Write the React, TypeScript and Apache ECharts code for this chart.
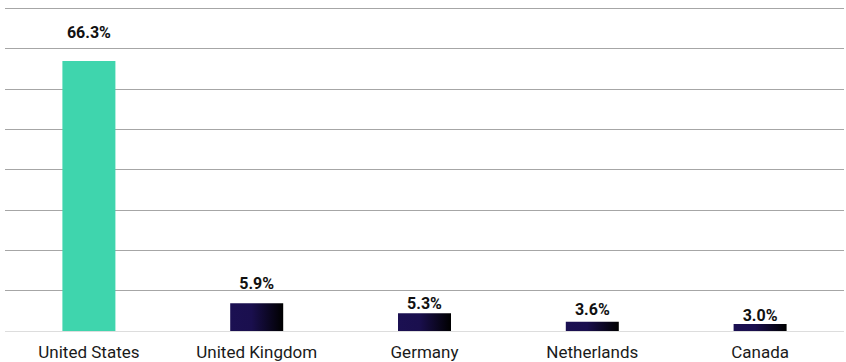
import React, { useEffect, useRef } from "react";
import * as echarts from "echarts";

const categories = ["United States", "United Kingdom", "Germany", "Netherlands", "Canada"];
// bar heights as drawn in the picture (percent)
const barValues = [66.9, 6.86, 4.38, 2.3, 1.73];
// printed labels above the bars
const labelTexts = ["66.3%", "5.9%", "5.3%", "3.6%", "3.0%"];
const labelDistances = [19, 11, 1, 3, 0];
const yMax = 80;
const yInterval = 10;

export default function App() {
  const ref = useRef<HTMLDivElement>(null);
  useEffect(() => {
    if (!ref.current) return;
    const chart = echarts.init(ref.current, undefined, { renderer: "svg" });
    const navy = new echarts.graphic.LinearGradient(0, 0, 1, 0, [
      { offset: 0, color: "#1b1052" },
      { offset: 0.4, color: "#1a0f4e" },
      { offset: 1, color: "#000000" },
    ]);
    const splitColors = ["#dddddd"];
    for (let i = 0; i < yMax / yInterval; i++) splitColors.push("#a6a6a6");
    chart.setOption({
      animation: false,
      grid: { left: 5, right: 2, top: 8, bottom: 31, containLabel: false },
      xAxis: {
        type: "category",
        data: categories,
        axisLine: { show: false },
        axisTick: { show: false },
        axisLabel: {
          color: "#1a1a1a",
          fontSize: 17,
          fontFamily: "Roboto",
          margin: 12,
        },
      },
      yAxis: {
        type: "value",
        min: 0,
        max: yMax,
        interval: yInterval,
        axisLabel: { show: false },
        axisLine: { show: false },
        axisTick: { show: false },
        splitLine: { show: true, lineStyle: { color: splitColors, width: 1 } },
      },
      series: [
        {
          type: "bar",
          barWidth: 53,
          data: barValues.map((v, i) => ({
            value: v,
            itemStyle: { color: i === 0 ? "#3fd5ad" : navy },
            label: {
              show: true,
              position: "top",
              distance: labelDistances[i],
              formatter: () => labelTexts[i],
              fontFamily: "Roboto",
              fontWeight: "bold",
              fontSize: 16,
              lineHeight: 18,
              color: "#111111",
            },
          })),
        },
      ],
    });
    return () => chart.dispose();
  }, []);
  return <div ref={ref} style={{ width: 846, height: 362, position: "absolute", left: 0, top: 0 }} />;
}
